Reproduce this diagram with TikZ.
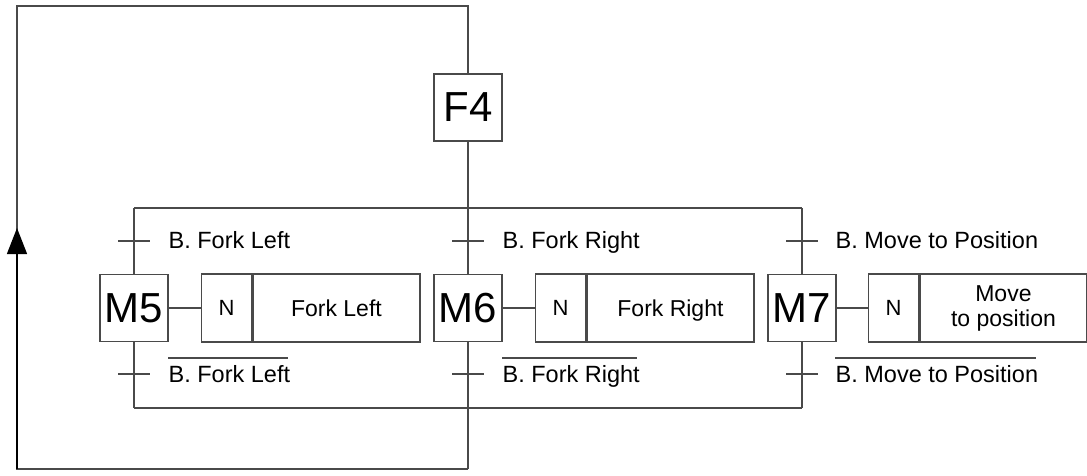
\documentclass[tikz,border=0pt]{standalone}
\usepackage{fontspec}
\setmainfont{Liberation Sans}
\usetikzlibrary{arrows.meta}
\definecolor{linec}{HTML}{4A4A4A}
\begin{document}
\begin{tikzpicture}[x=1pt,y=-1pt,line width=1.3pt,color=linec,text=black,
  stepbox/.style={draw=linec,fill=white,minimum width=68pt,minimum height=67pt,inner sep=0pt,font=\fontsize{42}{44}\selectfont},
  ncell/.style={draw=linec,anchor=west,minimum width=50pt,minimum height=68pt,inner sep=0pt,font=\fontsize{22}{24}\selectfont},
  acell/.style={draw=linec,anchor=west,minimum width=167pt,minimum height=68pt,inner sep=0pt,align=center,font=\fontsize{23}{25}\selectfont},
  tlabel/.style={anchor=base west,inner sep=0pt,font=\fontsize{23.5}{25}\selectfont},
  tick/.style={line width=1.3pt}]
\useasboundingbox (0,0) rectangle (1087,475);
% coordinates
\coordinate (tl) at (134,208);
\coordinate (tr) at (802,208);
\coordinate (bl) at (134,408);
\coordinate (br) at (802,408);
\coordinate (lbr) at (468,469);
\coordinate (lbl) at (17,469);
\coordinate (ltl) at (17,6);
\coordinate (ltr) at (468,6);
\coordinate (atip) at (17,228);
% steps
\node[stepbox] (F4) at (468,107.5) {F4};
\node[stepbox] (M5) at (134,308) {M5};
\node[stepbox] (M6) at (468,308) {M6};
\node[stepbox] (M7) at (802,308) {M7};
% actions
\node[ncell] (M5n) at (201,308) {N};
\node[acell,text height=16.5pt,text depth=0pt] (M5a) at (M5n.east) {Fork Left};
\node[ncell] (M6n) at (535,308) {N};
\node[acell,text height=16.5pt,text depth=0pt] (M6a) at (M6n.east) {Fork Right};
\node[ncell] (M7n) at (868,308) {N};
\node[acell] (M7a) at (M7n.east) {Move\\to position};
% connectors
\draw (M5.east) -- (M5n.west);
\draw (M6.east) -- (M6n.west);
\draw (M7.east) -- (M7n.west);
\draw (tl) -- (tr);
\draw (bl) -- (br);
\draw (tl) -- (M5.north);
\draw (M5.south) -- (bl);
\draw (tr) -- (M7.north);
\draw (M7.south) -- (br);
\draw (F4.south) -- (M6.north);
\draw (M6.south) -- (lbr);
\draw (lbr) -- (lbl) -- (ltl) -- (ltr) -- (F4.north);
\draw[-{Triangle[length=26pt,width=20pt]},draw=black,fill=black] (lbl) -- (atip);
% transitions
\foreach \n/\x in {5/134,6/468,7/802}{
  \coordinate (u\n) at (\x,241);
  \coordinate (d\n) at (\x,374);
  \draw[tick] ([xshift=-16pt]u\n) -- ([xshift=16pt]u\n);
  \draw[tick] ([xshift=-16pt]d\n) -- ([xshift=16pt]d\n);
}
\node[tlabel] (l5u) at (168,248.5) {B. Fork Left};
\node[tlabel] (l5d) at (168,382) {B. Fork Left};
\node[tlabel] (l6u) at (502,248.5) {B. Fork Right};
\node[tlabel] (l6d) at (502,382) {B. Fork Right};
\node[tlabel] (l7u) at (835,248.5) {B. Move to Position};
\node[tlabel] (l7d) at (835,382) {B. Move to Position};
\foreach \l in {l5d,l6d,l7d}{
  \draw[line width=1.1pt] ([yshift=24pt]\l.base west) -- ([yshift=24pt,xshift=-3pt]\l.base east);
}
\end{tikzpicture}
\end{document}
